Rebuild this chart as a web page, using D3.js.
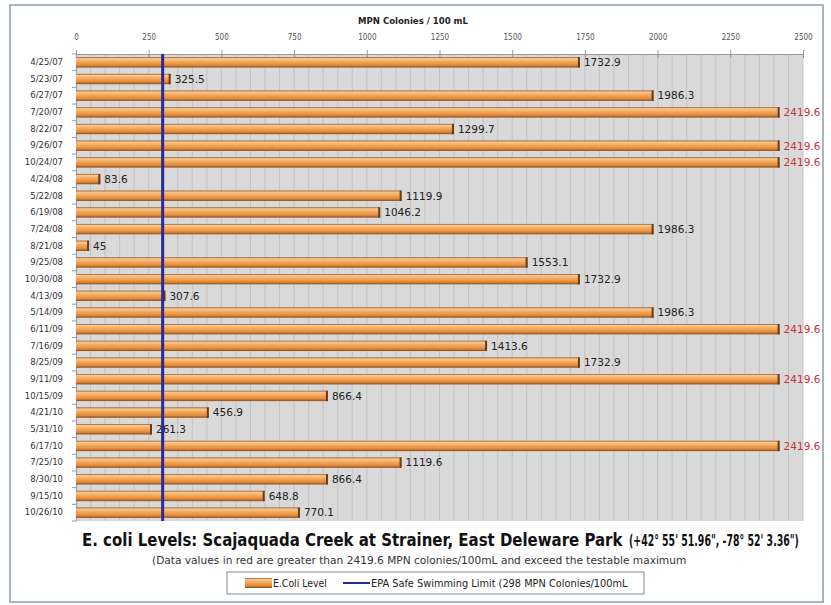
<!DOCTYPE html>
<html>
<head>
<meta charset="utf-8">
<script src="https://cdn.jsdelivr.net/npm/d3@7"></script>
<style>
  body { margin: 0; background: #fff; }
  svg { display: block; }
</style>
</head>
<body>
<svg id="chart" width="831" height="605"></svg>
<script>
// sample dates and E. coli readings (MPN colonies / 100 mL)
var dates = ['4/25/07', '5/23/07', '6/27/07', '7/20/07', '8/22/07', '9/26/07', '10/24/07',
  '4/24/08', '5/22/08', '6/19/08', '7/24/08', '8/21/08', '9/25/08', '10/30/08',
  '4/13/09', '5/14/09', '6/11/09', '7/16/09', '8/25/09', '9/11/09', '10/15/09',
  '4/21/10', '5/31/10', '6/17/10', '7/25/10', '8/30/10', '9/15/10', '10/26/10'];

var levels = [1732.9, 325.5, 1986.3, 2419.6, 1299.7, 2419.6, 2419.6,
  83.6, 1119.9, 1046.2, 1986.3, 45, 1553.1, 1732.9,
  307.6, 1986.3, 2419.6, 1413.6, 1732.9, 2419.6, 866.4,
  456.9, 261.3, 2419.6, 1119.6, 866.4, 648.8, 770.1];

var xTicks = [0, 250, 500, 750, 1000, 1250, 1500, 1750, 2000, 2250, 2500];
var epaLimit = 298;
var maxTestable = 2419.6;

var cond = 'DejaVu Sans Condensed, DejaVu Sans';

var svg = d3.select('#chart');

var x = d3.scaleLinear().domain([0, 2500]).range([76, 803]);
var y = d3.scaleBand().domain(dates).range([54, 521]).paddingInner(0.38).paddingOuter(0.19);

var defs = svg.append('defs');
var grad = defs.append('linearGradient')
    .attr('id', 'barGrad')
    .attr('x1', '0%').attr('y1', '0%')
    .attr('x2', '0%').attr('y2', '100%');
[['0%', '#94531f'], ['14%', '#f9c892'], ['42%', '#f4aa5e'], ['78%', '#e0893a'], ['100%', '#8a4a1a']]
  .forEach(function(s) {
    grad.append('stop').attr('offset', s[0]).attr('stop-color', s[1]);
  });

// squeeze a text horizontally so it spans `w` pixels (reference uses a narrow font)
function fitText(sel, x0, y0, w) {
  var natural = sel.node().getComputedTextLength();
  sel.attr('transform', 'translate(' + x0 + ',' + y0 + ') scale(' + (w / natural) + ',1)');
  return sel;
}

// outer frame
svg.append('rect')
    .attr('x', 10).attr('y', 5)
    .attr('width', 813).attr('height', 597)
    .attr('fill', '#fff')
    .attr('stroke', '#8d9cb2')
    .attr('stroke-width', 1.5);

// plot background + minor grid
svg.append('rect')
    .attr('x', x(0)).attr('y', y.range()[0])
    .attr('width', x(2500) - x(0))
    .attr('height', y.range()[1] - y.range()[0])
    .attr('fill', '#d9d9d9');

svg.append('g').selectAll('line')
  .data(d3.range(50, 2501, 50))
  .join('line')
    .attr('x1', function(d) { return x(d); })
    .attr('x2', function(d) { return x(d); })
    .attr('y1', y.range()[0])
    .attr('y2', y.range()[1])
    .attr('stroke', '#bdbdbd')
    .attr('stroke-width', 0.8);

// top axis
var xAxis = d3.axisTop(x)
    .tickValues(xTicks)
    .tickFormat(d3.format('d'))
    .tickSizeInner(4)
    .tickSizeOuter(0)
    .tickPadding(10);

var gx = svg.append('g')
    .attr('transform', 'translate(0,' + y.range()[0] + ')')
    .call(xAxis);
gx.select('.domain').attr('stroke', '#9a9a9a');
gx.selectAll('.tick line').attr('stroke', '#9a9a9a').attr('y2', 4).attr('y1', -4);
gx.selectAll('.tick text')
    .attr('font-family', cond)
    .attr('font-size', 8)
    .attr('fill', '#555');

svg.append('text')
    .attr('x', 413).attr('y', 24)
    .attr('text-anchor', 'middle')
    .attr('font-family', cond)
    .attr('font-weight', 'bold')
    .attr('font-size', 9.5)
    .attr('fill', '#222')
    .text('MPN Colonies / 100 mL');

// left axis
var yAxis = d3.axisLeft(y).tickSize(0).tickPadding(13);
var gy = svg.append('g')
    .attr('transform', 'translate(' + x(0) + ',0)')
    .call(yAxis);
gy.select('.domain').attr('stroke', '#9a9a9a');
gy.selectAll('.tick text')
    .attr('font-family', 'DejaVu Sans')
    .attr('font-size', 8.5)
    .attr('fill', '#333');

svg.append('g').selectAll('line')
  .data(d3.range(dates.length + 1))
  .join('line')
    .attr('x1', x(0) - 4).attr('x2', x(0))
    .attr('y1', function(i) { return y.range()[0] + i * y.step(); })
    .attr('y2', function(i) { return y.range()[0] + i * y.step(); })
    .attr('stroke', '#9a9a9a');

// bars
var rows = dates.map(function(d, i) { return { date: d, v: levels[i] }; });

var bars = svg.append('g').selectAll('g')
  .data(rows)
  .join('g');

bars.append('rect')
    .attr('x', x(0))
    .attr('y', function(d) { return y(d.date); })
    .attr('width', function(d) { return x(d.v) - x(0); })
    .attr('height', y.bandwidth())
    .attr('fill', 'url(#barGrad)');

bars.append('rect')
    .attr('x', function(d) { return x(d.v) - 2; })
    .attr('y', function(d) { return y(d.date); })
    .attr('width', 2)
    .attr('height', y.bandwidth())
    .attr('fill', '#6b3a14');

bars.append('text')
    .attr('x', function(d) { return x(d.v) + 4; })
    .attr('y', function(d) { return y(d.date) + y.bandwidth() / 2; })
    .attr('dy', '0.36em')
    .attr('font-family', 'DejaVu Sans')
    .attr('font-size', 10.5)
    .attr('fill', function(d) { return d.v >= maxTestable ? '#c8323c' : '#222'; })
    .text(function(d) { return d.v; });

// EPA limit line
svg.append('line')
    .attr('x1', x(epaLimit)).attr('x2', x(epaLimit))
    .attr('y1', y.range()[0]).attr('y2', y.range()[1])
    .attr('stroke', '#2a2a96')
    .attr('stroke-width', 3);

// titles
fitText(svg.append('text')
    .attr('font-family', cond)
    .attr('font-weight', 'bold')
    .attr('font-size', 18.5)
    .attr('fill', '#111')
    .text('E. coli Levels: Scajaquada Creek at Strainer, East Deleware Park'), 82, 546, 541);

fitText(svg.append('text')
    .attr('font-family', cond)
    .attr('font-weight', 'bold')
    .attr('font-size', 15)
    .attr('fill', '#111')
    .text('(+42° 55\' 51.96", -78° 52\' 3.36")'), 629, 546, 170);

fitText(svg.append('text')
    .attr('font-family', cond)
    .attr('font-size', 10.5)
    .attr('fill', '#333')
    .text('(Data values in red are greater than 2419.6 MPN colonies/100mL and exceed the testable maximum'), 152, 564, 535);

// legend
var legend = svg.append('g');
legend.append('rect')
    .attr('x', 227).attr('y', 572)
    .attr('width', 417).attr('height', 22)
    .attr('fill', '#fff')
    .attr('stroke', '#8a8a8a');
legend.append('rect')
    .attr('x', 245).attr('y', 578)
    .attr('width', 27).attr('height', 10)
    .attr('fill', 'url(#barGrad)');
fitText(legend.append('text')
    .attr('font-family', cond)
    .attr('font-size', 10)
    .attr('fill', '#222')
    .text('E.Coli Level'), 273, 586.5, 54);
legend.append('line')
    .attr('x1', 343).attr('x2', 370)
    .attr('y1', 583).attr('y2', 583)
    .attr('stroke', '#2a2a96')
    .attr('stroke-width', 2);
fitText(legend.append('text')
    .attr('font-family', cond)
    .attr('font-size', 10)
    .attr('fill', '#222')
    .text('EPA Safe Swimming Limit (298 MPN Colonies/100mL'), 371, 586.5, 257);
</script>
</body>
</html>
